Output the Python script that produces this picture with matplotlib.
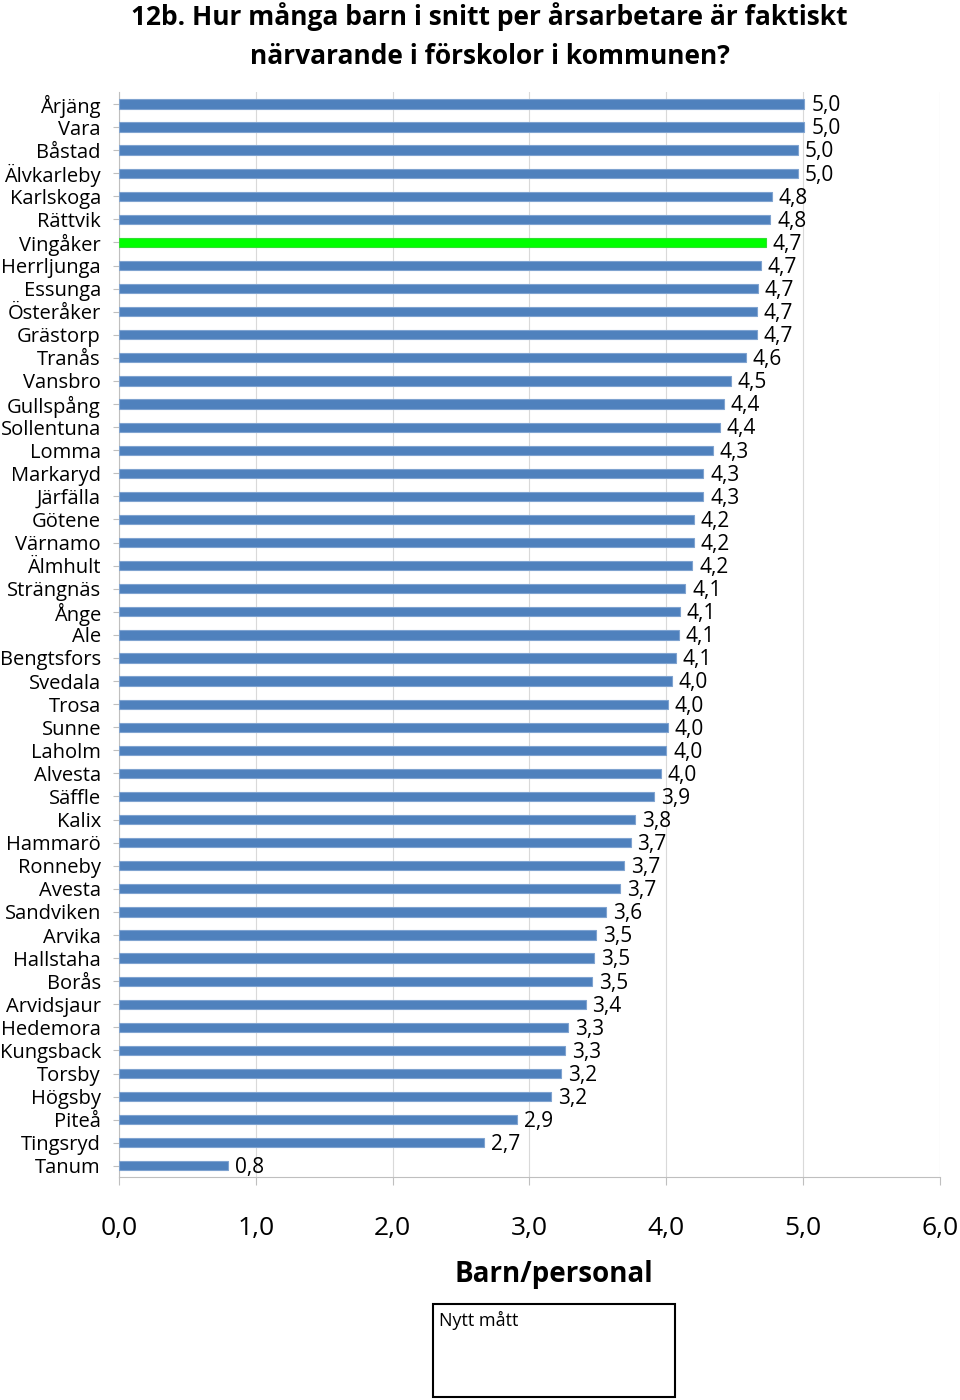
import matplotlib
matplotlib.use("Agg")
import matplotlib.pyplot as plt
from matplotlib.patches import Rectangle

plt.rcParams['font.family'] = ['Open Sans', 'DejaVu Sans']

kommuner = ["Årjäng", "Vara", "Båstad", "Älvkarleby", "Karlskoga", "Rättvik",
            "Vingåker", "Herrljunga", "Essunga", "Österåker", "Grästorp", "Tranås",
            "Vansbro", "Gullspång", "Sollentuna", "Lomma", "Markaryd", "Järfälla",
            "Götene", "Värnamo", "Älmhult", "Strängnäs", "Ånge", "Ale",
            "Bengtsfors", "Svedala", "Trosa", "Sunne", "Laholm", "Alvesta",
            "Säffle", "Kalix", "Hammarö", "Ronneby", "Avesta", "Sandviken",
            "Arvika", "Hallstaha", "Borås", "Arvidsjaur", "Hedemora", "Kungsback",
            "Torsby", "Högsby", "Piteå", "Tingsryd", "Tanum"]

barn_per_personal = [5.01, 5.01, 4.96, 4.96, 4.77, 4.76, 4.73, 4.69, 4.67, 4.66,
                     4.66, 4.58, 4.47, 4.42, 4.39, 4.34, 4.27, 4.27, 4.20, 4.20,
                     4.19, 4.14, 4.10, 4.09, 4.07, 4.04, 4.01, 4.01, 4.00, 3.96,
                     3.91, 3.77, 3.74, 3.69, 3.66, 3.56, 3.49, 3.47, 3.46, 3.41,
                     3.28, 3.26, 3.23, 3.16, 2.91, 2.67, 0.80]

markerad = "Vingåker"
x_ticks = [0, 1, 2, 3, 4, 5, 6]

fig = plt.figure(figsize=(9.6, 14.0), dpi=100)
ax = fig.add_axes([0.124, 0.159, 0.855, 0.775])

colors = ["#00FF00" if k == markerad else "#4F81BD" for k in kommuner]
edges = ["#33DD33" if k == markerad else "#7FA3D0" for k in kommuner]
y_pos = list(range(len(kommuner)))
bars = ax.barh(y_pos, barn_per_personal, height=0.4, color=colors,
               edgecolor=edges, linewidth=0.8, zorder=3)

ax.set_ylim(len(kommuner) - 0.5, -0.5)
ax.set_xlim(0, 6)
ax.set_yticks(y_pos)
ax.set_yticklabels(kommuner, fontsize=14.5)
ax.set_xticks(x_ticks)
ax.set_xticklabels([("%.1f" % t).replace(".", ",") for t in x_ticks], fontsize=19)

# value labels at end of each bar
for rect, v in zip(bars, barn_per_personal):
    ax.text(rect.get_width() + 0.05, rect.get_y() + rect.get_height() / 2 + 0.08,
            ("%.1f" % v).replace(".", ","), fontsize=15, va="center", ha="left")

ax.grid(axis="x", color="#D9D9D9", linewidth=0.8, zorder=0)
for s in ["top", "right"]:
    ax.spines[s].set_visible(False)
ax.spines["left"].set_color("#BFBFBF")
ax.spines["bottom"].set_color("#BFBFBF")
ax.tick_params(axis="y", length=4, color="#BFBFBF", pad=9)
ax.tick_params(axis="x", length=6, color="#BFBFBF", pad=22)

ax.set_xlabel("Barn/personal", fontsize=20, fontweight="bold")
ax.xaxis.set_label_coords(0.53, -0.076)

fig.text(0.51, 0.9885, "12b. Hur många barn i snitt per årsarbetare är faktiskt",
         ha="center", va="center", fontsize=19, fontweight="bold")
fig.text(0.51, 0.960, "närvarande i förskolor i kommunen?",
         ha="center", va="center", fontsize=19, fontweight="bold")

# legend box
box = Rectangle((433 / 960, 1 - 1397 / 1400), 242 / 960, 93 / 1400,
                transform=fig.transFigure, fill=False, edgecolor="black", linewidth=1.5)
fig.patches.append(box)
fig.text(439 / 960, 1 - 1320 / 1400, "Nytt mått", fontsize=13, va="center", ha="left")

plt.savefig("out.png")
plt.close()
